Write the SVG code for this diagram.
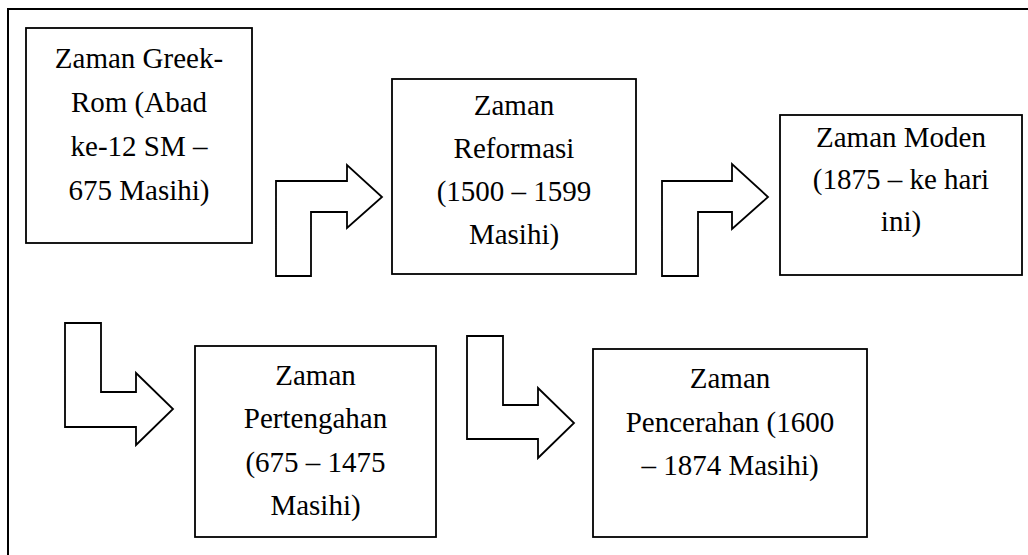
<svg xmlns="http://www.w3.org/2000/svg" width="1028" height="555" viewBox="0 0 1028 555">
<style>
.box{fill:#fff;stroke:#000;stroke-width:1.8}
.arr{fill:#fff;stroke:#000;stroke-width:1.8;stroke-linejoin:miter}
.frame{fill:none;stroke:#000;stroke-width:2}
.t{font-family:"Liberation Serif","Times New Roman",serif;font-size:29px;fill:#000;text-anchor:middle}
</style>
<rect width="1028" height="555" fill="#fff"/>
<path class="frame" d="M8,556 V9 H1029"/>
<g id="connectors">
<path class="arr" d="M276,276 V181 H347 V165 L382,197 L347,228 V212 H311 V276 Z"/>
<path class="arr" d="M662,276 V181 H732 V164 L768,197 L732,229 V212 H698 V276 Z"/>
<path class="arr" d="M65,323 H101 V392 H136 V373 L173,409 L136,445 V427 H65 Z"/>
<path class="arr" d="M467,336 H503 V405 H538 V388 L574,423 L538,458 V439 H467 Z"/>
</g>
<g id="node-greek-rom">
<rect class="box" x="26" y="28" width="226" height="215"/>
<text class="t" x="139" y="68">Zaman Greek-</text>
<text class="t" x="139" y="112">Rom (Abad</text>
<text class="t" x="139" y="156">ke-12 SM –</text>
<text class="t" x="139" y="200">675 Masihi)</text>
</g>
<g id="node-reformasi">
<rect class="box" x="392" y="79" width="244" height="195"/>
<text class="t" x="514" y="115">Zaman</text>
<text class="t" x="514" y="158">Reformasi</text>
<text class="t" x="514" y="201">(1500 – 1599</text>
<text class="t" x="514" y="244">Masihi)</text>
</g>
<g id="node-moden">
<rect class="box" x="780" y="115" width="242" height="160"/>
<text class="t" x="901" y="147">Zaman Moden</text>
<text class="t" x="901" y="189">(1875 – ke hari</text>
<text class="t" x="901" y="231">ini)</text>
</g>
<g id="node-pertengahan">
<rect class="box" x="195" y="346" width="241" height="191"/>
<text class="t" x="315.5" y="385">Zaman</text>
<text class="t" x="315.5" y="428">Pertengahan</text>
<text class="t" x="315.5" y="472">(675 – 1475</text>
<text class="t" x="315.5" y="515">Masihi)</text>
</g>
<g id="node-pencerahan">
<rect class="box" x="593" y="349" width="274" height="188"/>
<text class="t" x="730" y="388">Zaman</text>
<text class="t" x="730" y="432">Pencerahan (1600</text>
<text class="t" x="730" y="475">– 1874 Masihi)</text>
</g>
</svg>
